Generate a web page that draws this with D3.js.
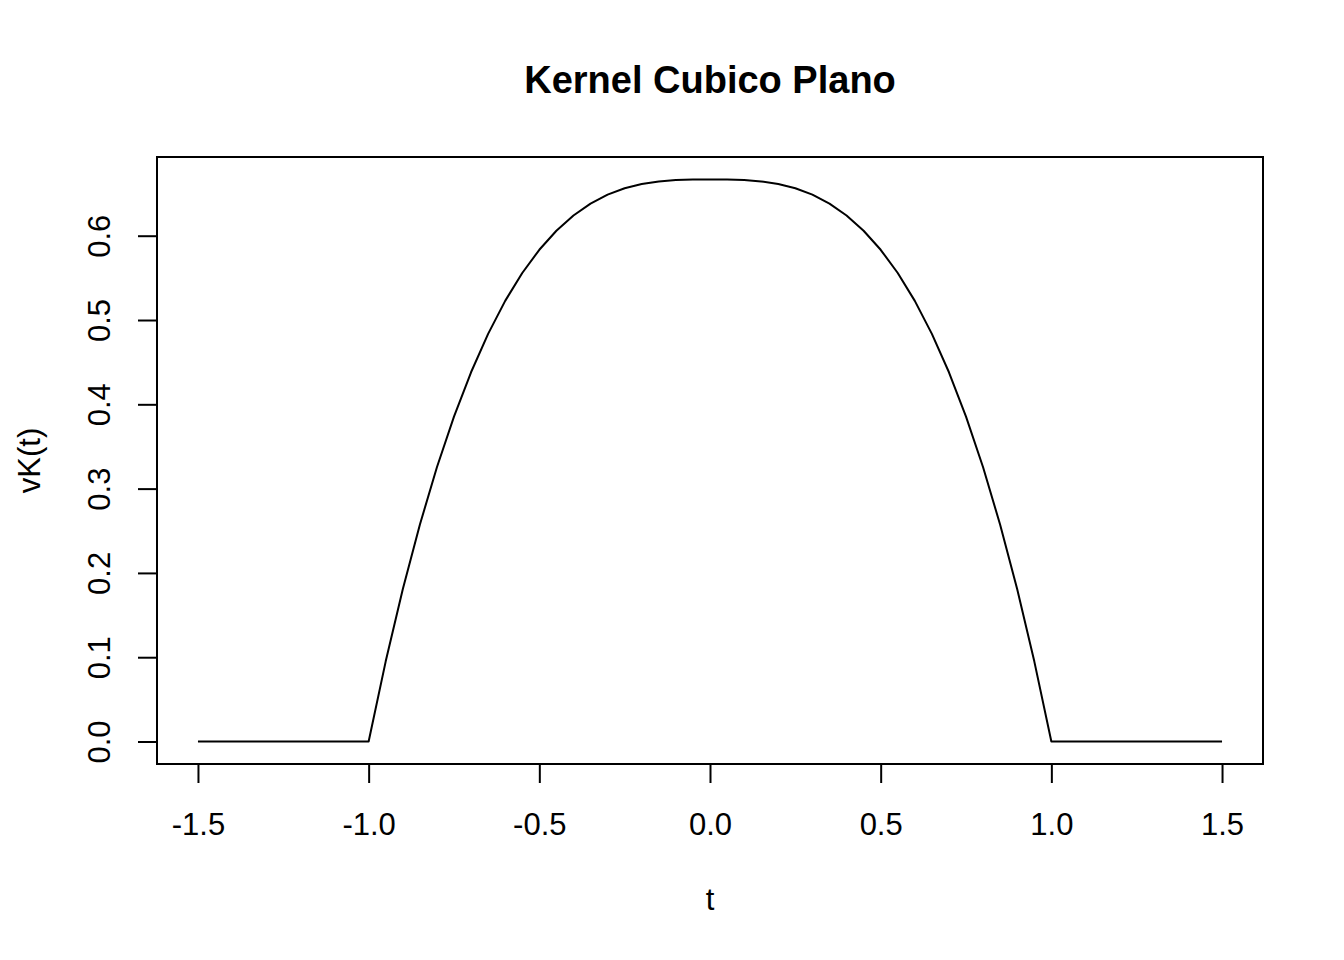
<!DOCTYPE html>
<html>
<head>
<meta charset="utf-8">
<script src="https://cdn.jsdelivr.net/npm/d3@7"></script>
<style>
html,body{margin:0;padding:0;background:#fff;}
svg{display:block;}
text{font-family:"Liberation Sans",Arial,sans-serif;fill:#000;}
</style>
</head>
<body>
<svg id="chart" width="1344" height="960"></svg>
<script>
const title = "Kernel Cubico Plano";
const xLabel = "t";
const yLabel = "vK(t)";
const tValues = [-1.5,-1.45,-1.4,-1.35,-1.3,-1.25,-1.2,-1.15,-1.1,-1.05,
  -1.0,-0.95,-0.9,-0.85,-0.8,-0.75,-0.7,-0.65,-0.6,-0.55,-0.5,-0.45,-0.4,-0.35,-0.3,-0.25,-0.2,-0.15,-0.1,-0.05,
  0,0.05,0.1,0.15,0.2,0.25,0.3,0.35,0.4,0.45,0.5,0.55,0.6,0.65,0.7,0.75,0.8,0.85,0.9,0.95,1.0,
  1.05,1.1,1.15,1.2,1.25,1.3,1.35,1.4,1.45,1.5];
const vKValues = [0,0,0,0,0,0,0,0,0,0,
  0,0.0951,0.1807,0.2572,0.3253,0.3854,0.4380,0.4836,0.5227,0.5558,0.5833,0.6059,0.6240,0.6381,0.6487,0.6563,0.6613,0.6644,0.6660,0.6666,
  0.6667,0.6666,0.6660,0.6644,0.6613,0.6563,0.6487,0.6381,0.6240,0.6059,0.5833,0.5558,0.5227,0.4836,0.4380,0.3854,0.3253,0.2572,0.1807,0.0951,0,
  0,0,0,0,0,0,0,0,0,0];
const xTicks = [-1.5,-1.0,-0.5,0.0,0.5,1.0,1.5];
const yTicks = [0.0,0.1,0.2,0.3,0.4,0.5,0.6];

const box = {left:157, right:1263, top:157, bottom:764};
const svg = d3.select("#chart");
const fmt = d => d.toFixed(1);

const xMin = d3.min(tValues), xMax = d3.max(tValues);
const yMin = d3.min(vKValues), yMax = d3.max(vKValues);
const xPad = (xMax - xMin) * 0.04, yPad = (yMax - yMin) * 0.04;
const x = d3.scaleLinear().domain([xMin - xPad, xMax + xPad]).range([box.left, box.right]);
const y = d3.scaleLinear().domain([yMin - yPad, yMax + yPad]).range([box.bottom, box.top]);

// box
svg.append("rect").attr("x", box.left).attr("y", box.top)
  .attr("width", box.right - box.left).attr("height", box.bottom - box.top)
  .attr("fill", "none").attr("stroke", "#000").attr("stroke-width", 2);

// x axis
const xAxis = svg.append("g").attr("transform", `translate(0,${box.bottom})`)
  .call(d3.axisBottom(x).tickValues(xTicks).tickSize(19).tickSizeOuter(0).tickFormat(fmt));
xAxis.select(".domain").attr("d", `M${x(xTicks[0])},0H${x(xTicks[xTicks.length-1])}`).attr("stroke-width", 2);
xAxis.selectAll(".tick line").attr("stroke-width", 2);
xAxis.selectAll(".tick text").attr("y", 71).attr("dy", null)
  .style("font-size", "31px").style("font-family", "Liberation Sans, Arial, sans-serif").attr("fill", "#000");

// y axis
const yAxis = svg.append("g").attr("transform", `translate(${box.left},0)`)
  .call(d3.axisLeft(y).tickValues(yTicks).tickSize(19).tickSizeOuter(0).tickFormat(fmt));
yAxis.select(".domain").attr("d", `M0,${y(yTicks[0])}V${y(yTicks[yTicks.length-1])}`).attr("stroke-width", 2);
yAxis.selectAll(".tick line").attr("stroke-width", 2);
yAxis.selectAll(".tick text")
  .attr("x", null).attr("dy", null)
  .attr("text-anchor", "middle")
  .attr("transform", "translate(-47,0) rotate(-90)")
  .attr("y", 0)
  .style("font-size", "31px").style("font-family", "Liberation Sans, Arial, sans-serif").attr("fill", "#000");

// curve
const line = d3.line().x((d, i) => x(tValues[i])).y(d => y(d));
svg.append("path").datum(vKValues)
  .attr("d", line).attr("fill", "none").attr("stroke", "#000").attr("stroke-width", 2)
  .attr("stroke-linejoin", "round");

// title
svg.append("text").attr("x", (box.left + box.right) / 2).attr("y", 93)
  .attr("text-anchor", "middle").style("font-size", "38px").style("font-weight", "bold").text(title);
// x label
svg.append("text").attr("x", (box.left + box.right) / 2).attr("y", 910)
  .attr("text-anchor", "middle").style("font-size", "31px").text(xLabel);
// y label
svg.append("text").attr("transform", `translate(40,${(box.top + box.bottom) / 2}) rotate(-90)`)
  .attr("text-anchor", "middle").style("font-size", "31px").text(yLabel);
</script>
</body>
</html>
